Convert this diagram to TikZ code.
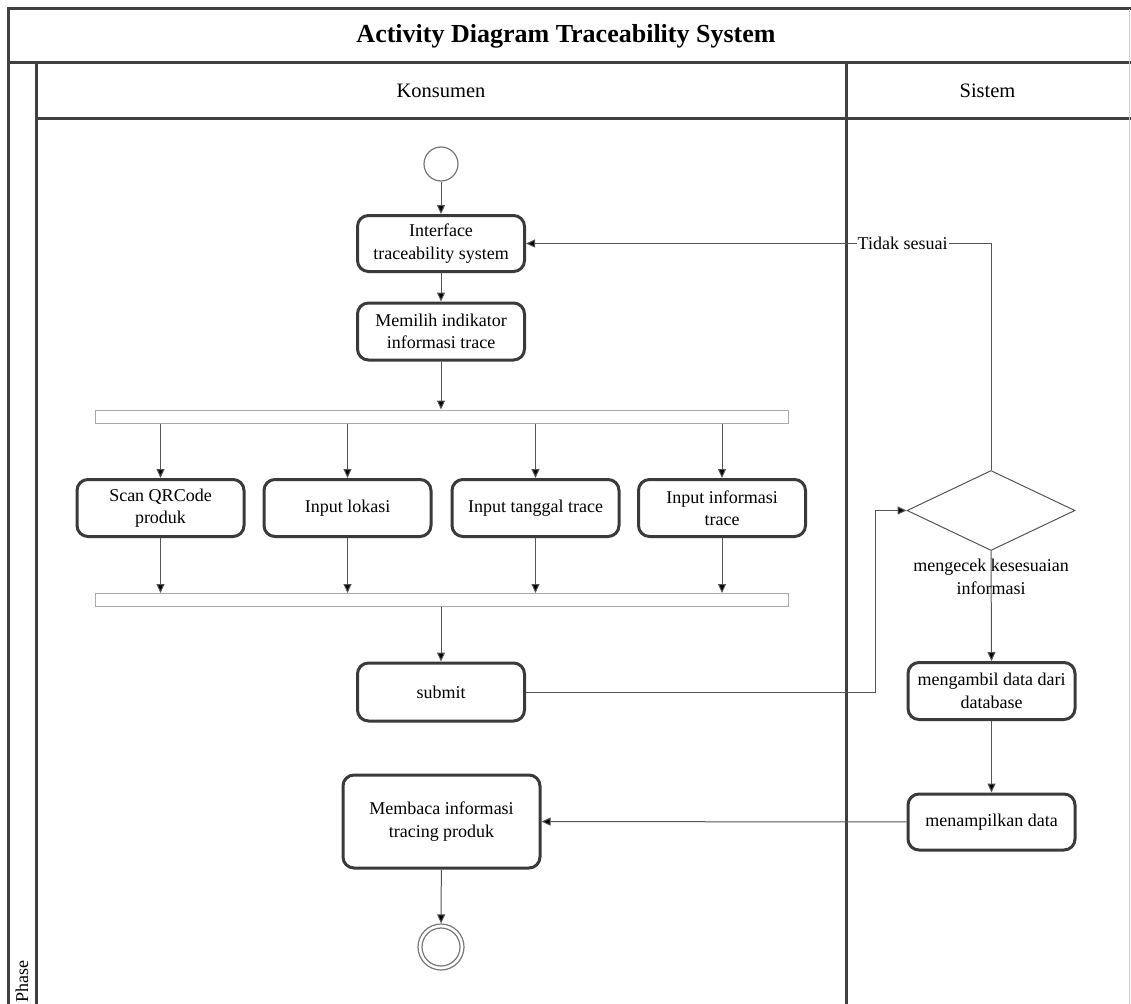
\documentclass[tikz,border=0pt]{standalone}
\usepackage{fontspec}
\setmainfont{Liberation Serif}
\usetikzlibrary{shapes.geometric,arrows.meta}

\definecolor{frame}{HTML}{404040}
\definecolor{boxline}{HTML}{3A3A3A}
\definecolor{conn}{HTML}{555555}
\definecolor{barline}{HTML}{AAAAAA}
\definecolor{soft}{HTML}{777777}

\begin{document}
\begin{tikzpicture}[x=1pt,y=-1pt,
  lane/.style={draw=frame,line width=3pt},
  txt/.style={font=\fontsize{18}{22.5}\selectfont},
  act/.style={txt,draw=boxline,line width=3pt,rounded corners=11pt,fill=white,
    align=center,inner sep=0pt,minimum width=167pt,minimum height=57pt},
  bar/.style={draw=barline,line width=1pt,fill=white,minimum width=693pt,
    minimum height=13pt,inner sep=0pt},
  flow/.style={draw=conn,line width=1pt,-{Triangle[length=9pt,width=8pt,fill=black]}},
  plain/.style={draw=conn,line width=1pt}
]
\useasboundingbox (0,0) rectangle (1131,1003);
\clip (0,0) rectangle (1131,1003);

% swimlane frame
\draw[lane] (1131,9) -- (8,9) -- (8,1010);
\draw[lane] (8,63) -- (1131,63);
\draw[lane] (36,63) -- (36,1010);
\draw[lane] (36,119) -- (1131,119);
\draw[lane] (846,63) -- (846,1010);
\draw[draw=barline!60,line width=1pt] (1129.5,9) -- (1129.5,1010);

\node[font=\fontsize{26}{30}\selectfont\bfseries] (title) at (566,36) {Activity Diagram Traceability System};
\node[font=\fontsize{20.5}{24}\selectfont] (konsumen) at (441,91) {Konsumen};
\node[font=\fontsize{20.5}{24}\selectfont] (sistem) at (987.5,91) {Sistem};
\node[txt,rotate=90] (phase) at (22,981) {Phase};

% start and end
\node[circle,draw=soft,line width=1.2pt,minimum size=34pt,inner sep=0pt] (start) at (441,164) {};
\node[circle,draw=soft,line width=1.2pt,minimum size=46pt,inner sep=0pt] (stop) at (441,947) {};
\node[circle,draw=soft,line width=1.2pt,minimum size=38pt,inner sep=0pt] (stopin) at (441,947) {};

% activities of Konsumen
\node[act,minimum height=56pt] (iface) at (441,243.5) {Interface\\traceability system};
\node[act] (pilih) at (441,331.5) {Memilih indikator\\informasi trace};
\node[bar] (fork) at (441.5,416.5) {};
\node[act] (scan) at (160.5,508) {Scan QRCode\\produk};
\node[act] (lokasi) at (347.5,508) {Input lokasi};
\node[act] (tanggal) at (535.5,508) {Input tanggal trace};
\node[act] (info) at (722,508) {Input informasi\\trace};
\node[bar] (join) at (441.5,600) {};
\node[act,minimum height=58pt] (submit) at (441,692) {submit};
\node[act,minimum width=197pt,minimum height=93pt] (baca) at (441.5,821.5) {Membaca informasi\\tracing produk};

% activities of Sistem
\node[diamond,draw=conn,line width=1pt,minimum width=168pt,minimum height=80pt,inner sep=0pt] (cek) at (991,510.5) {};
\node[txt,align=center,inner sep=0pt] (ceklbl) at (991,577) {mengecek kesesuaian\\informasi};
\node[act] (ambil) at (991.5,691) {mengambil data dari\\database};
\node[act,minimum height=56pt] (tampil) at (991.5,822) {menampilkan data};

% flows
\draw[flow] (start) -- (iface);
\draw[flow] (iface) -- (pilih);
\draw[flow] (pilih) -- (pilih|-fork.north);
\foreach \a in {scan,lokasi,tanggal,info}{
  \draw[flow] (fork.south-|\a) -- (\a.north);
  \draw[flow] (\a.south) -- (\a.south|-join.north);
}
\draw[flow] (join.south-|submit) -- (submit.north);
\draw[flow] (submit.east) -- ++(349,0) |- (cek.west);
\draw[flow] (cek.north) |- node[txt,pos=0.595,fill=white,inner sep=1pt] (tidak) {Tidak sesuai} (iface.east);
\draw[flow] (cek.south) -- (ambil.north);
\draw[flow] (ambil) -- (tampil);
\draw[flow] (tampil) -- (baca);
\draw[flow] (baca) -- (stop);
\end{tikzpicture}
\end{document}
